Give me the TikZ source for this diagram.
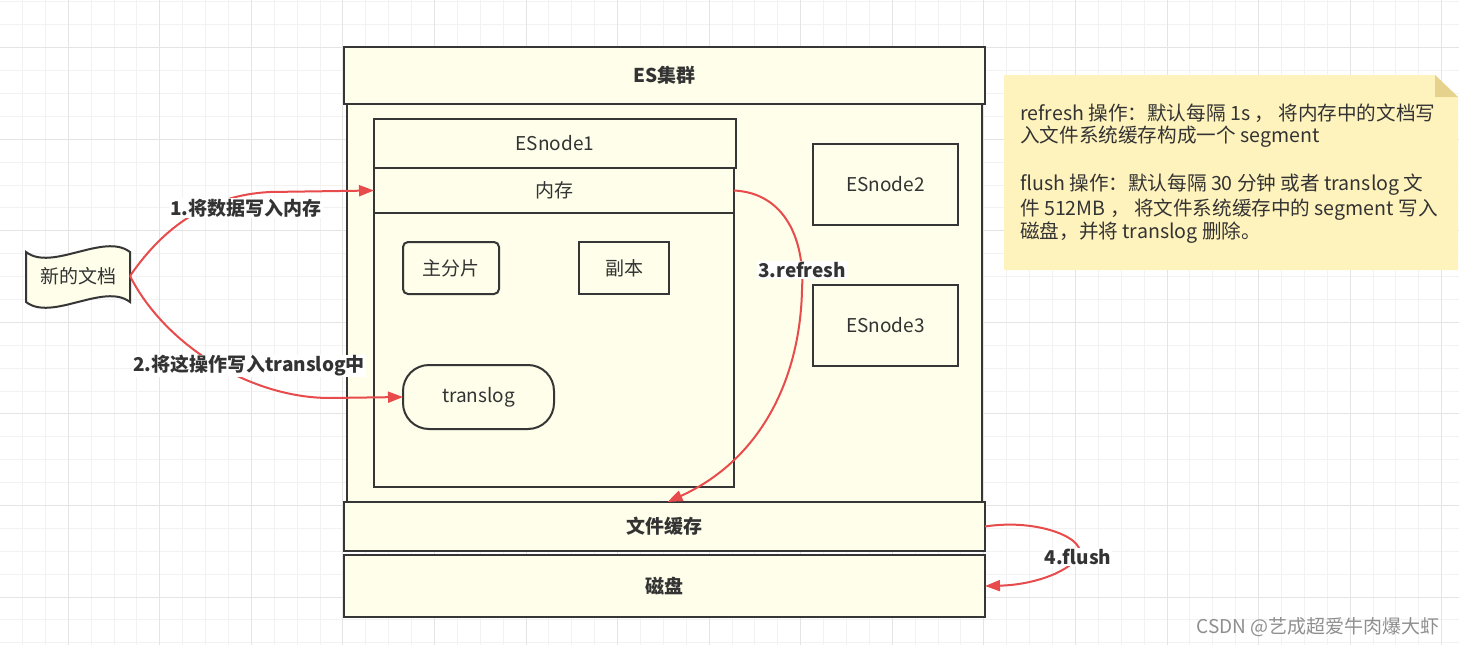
\documentclass[tikz,border=0pt]{standalone}
\usepackage{fontspec}
\setmainfont{Noto Sans CJK SC}
\usetikzlibrary{arrows.meta}
\definecolor{boxfill}{HTML}{FEFEEA}
\definecolor{boxline}{HTML}{363636}
\definecolor{arr}{HTML}{E84B4B}
\definecolor{txt}{HTML}{333333}
\definecolor{notefill}{HTML}{FFF3BD}
\definecolor{notefold}{HTML}{E6D28D}
\definecolor{gridminor}{HTML}{F2F2F2}
\definecolor{gridmajor}{HTML}{E4E4E4}
\definecolor{wm}{HTML}{8F8F8F}
\begin{document}
\begin{tikzpicture}[x=1pt,y=-1pt,
  box/.style={draw=boxline, fill=boxfill, line width=2pt, text=txt,
    font=\fontsize{19}{22}\selectfont, inner sep=0, outer sep=0},
  boldbox/.style={box, font=\bfseries\fontsize{19}{22}\selectfont},
  lbl/.style={fill=white, text=txt, font=\bfseries\fontsize{19}{22}\selectfont, inner sep=1pt},
  notetext/.style={anchor=west, text=txt, font=\fontsize{19.6}{22}\selectfont, inner sep=0},
  conn/.style={draw=arr, line width=2pt, -{Triangle[length=15pt,width=11pt]}}
]
\useasboundingbox (0,0) rectangle (1459,645);
\fill[white] (0,0) rectangle (1459,645);
% grid
\foreach \i in {0,...,64} {
  \draw[gridminor, line width=1pt] ({\i*22.89-0.4},0) -- ({\i*22.89-0.4},645);
}
\foreach \j in {0,...,28} {
  \draw[gridminor, line width=1pt] (0,{\j*22.89+1.9}) -- (1459,{\j*22.89+1.9});
}
\foreach \i in {0,...,16} {
  \draw[gridmajor, line width=1pt] ({\i*91.56+68.3},0) -- ({\i*91.56+68.3},645);
}
\foreach \j in {0,...,6} {
  \draw[gridmajor, line width=1pt] (0,{\j*91.56+47.7}) -- (1459,{\j*91.56+47.7});
}

% ES cluster
\node[box, minimum width=635pt, minimum height=398pt] (clbody) at (664.5,303) {};
\node[boldbox, minimum width=641pt, minimum height=57pt] (clhead) at (664.5,75.5) {ES集群};

% ESnode1
\node[box, minimum width=360pt, minimum height=274pt] (n1body) at (554,350) {};
\node[box, minimum width=362pt, minimum height=49pt] (n1head) at (555,143.5) {ESnode1};
\node[box, minimum width=360pt, minimum height=45pt] (mem) at (554,190.5) {内存};
\node[box, rounded corners=5pt, minimum width=96pt, minimum height=52pt] (shard) at (451,268) {主分片};
\node[box, minimum width=90pt, minimum height=52pt] (replica) at (624,268) {副本};
\node[box, rounded corners=26pt, minimum width=151pt, minimum height=64pt] (tl) at (478.5,397) {translog};

% other nodes
\node[box, minimum width=145pt, minimum height=81pt] (n2) at (885.5,184.5) {ESnode2};
\node[box, minimum width=145pt, minimum height=81pt] (n3) at (885.5,325.5) {ESnode3};

% file cache and disk
\node[boldbox, minimum width=641pt, minimum height=49pt] (fc) at (664.5,526.5) {文件缓存};
\node[boldbox, minimum width=641pt, minimum height=62pt] (disk) at (664.5,586) {磁盘};

% document (tape shape)
\draw[draw=boxline, fill=boxfill, line width=2pt]
  (26,252) .. controls (52,272) and (104,232) .. (130,252) -- (130,302)
  .. controls (104,282) and (52,322) .. (26,302) -- cycle;
\node[text=txt, font=\fontsize{19}{22}\selectfont, minimum width=104pt, minimum height=50pt, inner sep=0, outer sep=0] (doc) at (78,276) {新的文档};

% note
\fill[notefill] (1004,75) -- (1435,75) -- (1458,97) -- (1458,270) -- (1004,270) -- cycle;
\fill[notefold] (1435,75) -- (1458,97) -- (1435,97) -- cycle;
\node[notetext] (t1) at (1020,113) {refresh 操作：默认每隔 1s ， 将内存中的文档写};
\node[notetext] (t2) at (1020,137) {入文件系统缓存构成一个 segment};
\node[notetext] (t3) at (1020,185) {flush 操作：默认每隔 30 分钟 或者 translog 文};
\node[notetext] (t4) at (1020,210) {件 512MB ， 将文件系统缓存中的 segment 写入};
\node[notetext] (t5) at (1020,233) {磁盘，并将 translog 删除。};

% connectors
\draw[conn] (doc.east) .. controls (165,225) and (210,195) .. (270,192) -- (mem.west);
\draw[conn] (doc.east) .. controls (165,345) and (250,398) .. (330,398) -- (tl.west);
\draw[conn] (mem.east) .. controls (785,193) and (805,240) .. (802,290)
  .. controls (800,380) and (760,460) .. ([xshift=3pt]fc.north);
\draw[conn] (fc.east) .. controls (1040,518) and (1090,540) .. (1078,557)
  .. controls (1066,574) and (1030,585) .. (disk.east);

% labels
\node[lbl] (l1) at (246,208) {1.将数据写入内存};
\node[lbl] (l2) at (249,366) {2.将这操作写入translog中};
\node[lbl] (l3) at (802,270) {3.refresh};
\node[lbl] (l4) at (1078,557) {4.flush};

% watermark
\node[text=wm, font=\fontsize{19}{22}\selectfont, inner sep=0] (wmk) at (1318,627) {CSDN @艺成超爱牛肉爆大虾};
\end{tikzpicture}
\end{document}
